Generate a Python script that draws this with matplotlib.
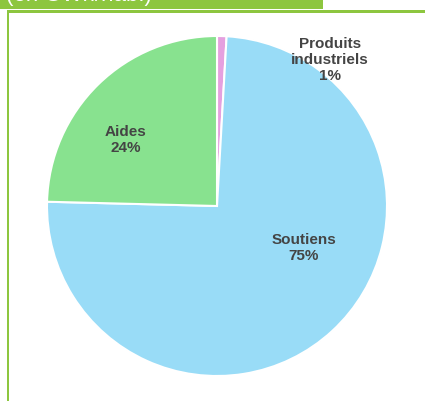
import matplotlib as mpl
mpl.use('Agg')
import matplotlib.pyplot as plt
from matplotlib.patches import Rectangle

labels = ['Produits\nindustriels', 'Soutiens', 'Aides']
values = [0.9, 74.5, 24.6]
pcts = ['1%', '75%', '24%']
colors = ['#e5a0df', '#99dcf7', '#88e28f']

W, H = 425, 401
fig = plt.figure(figsize=(W / 100, H / 100), dpi=100)
ax = fig.add_axes([0, 0, 1, 1])
ax.set_xlim(0, W)
ax.set_ylim(0, H)
ax.axis('off')

green = '#8dc63f'
# header bar + frame
ax.add_patch(Rectangle((0, H - 9), 323, 9, color=green, lw=0))
ax.add_patch(Rectangle((7, H - 13), W - 7, 3, color=green, lw=0))
ax.add_patch(Rectangle((7, 0), 2.5, H - 10, color=green, lw=0))
ax.text(6, H - 0.5, '(en GWh/hab.)', color='white', fontsize=16,
        family='Liberation Sans', va='baseline', ha='left')

cx, cy, r = 217, H - 206, 170
ax.pie(values, colors=colors, startangle=90, counterclock=False,
       center=(cx, cy), radius=r,
       wedgeprops=dict(edgecolor='white', linewidth=1.5))
ax.set_xlim(0, W)
ax.set_ylim(0, H)

label_pos = [(330, 60), (304, 248), (126, 140)]
for lab, p, (x, y) in zip(labels, pcts, label_pos):
    ax.text(x, H - y, lab + '\n' + p, ha='center', va='center',
            fontsize=11, fontweight='bold', color='#444444',
            family='Liberation Sans', linespacing=1.2)

fig.savefig('out.png', dpi=100)
